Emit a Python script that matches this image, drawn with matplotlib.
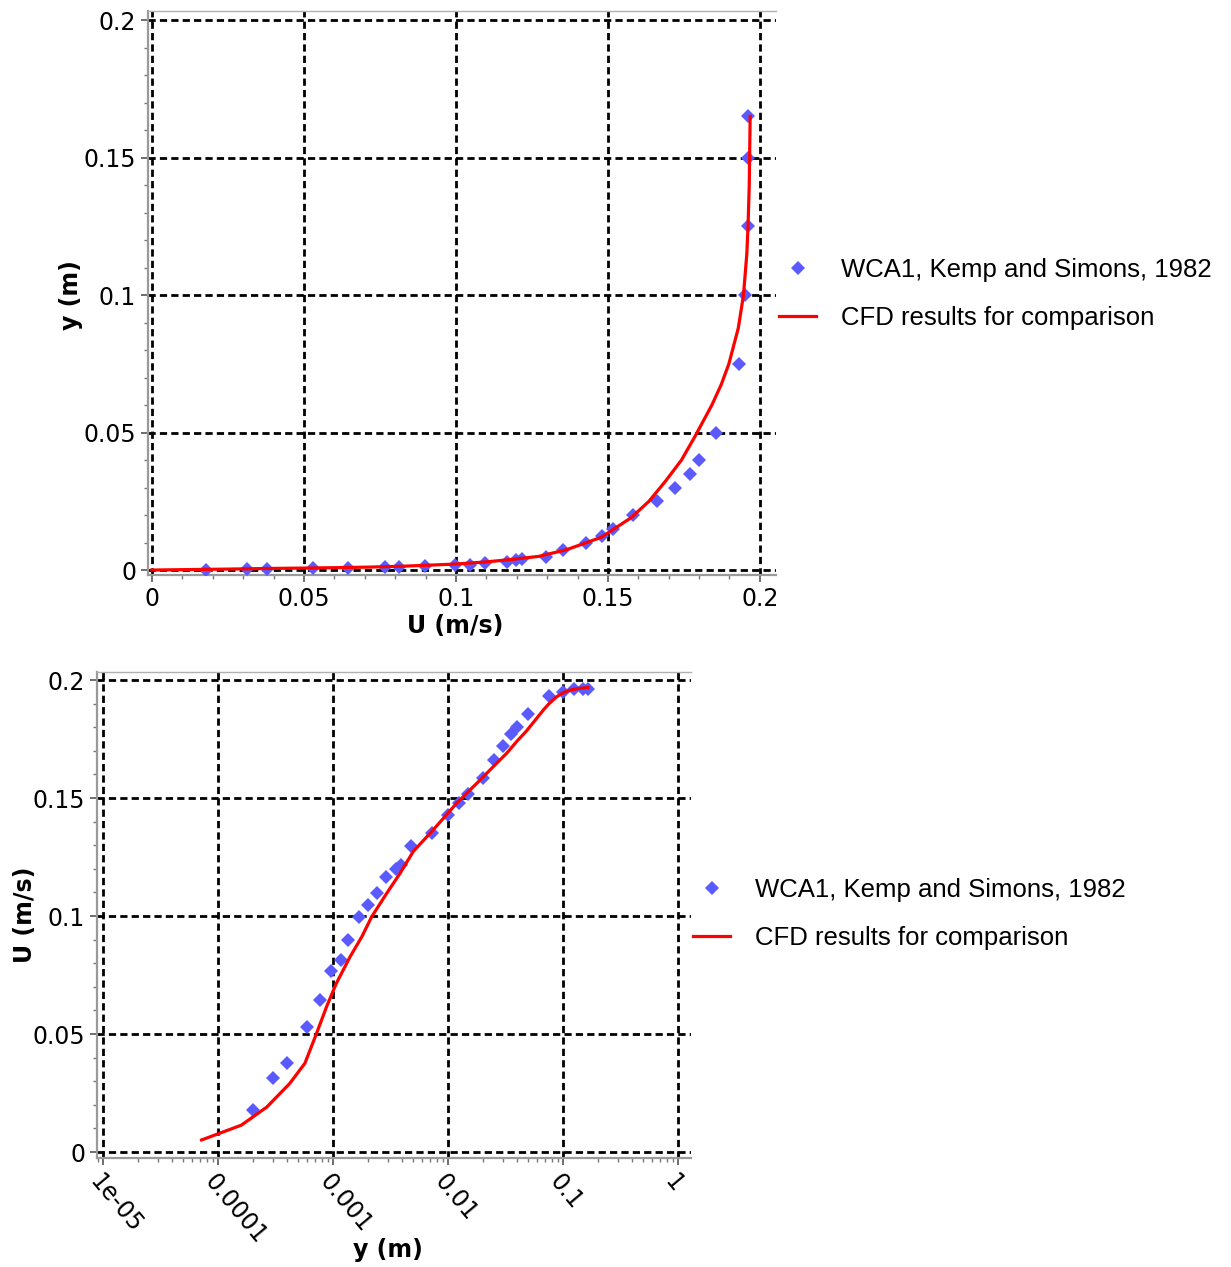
import matplotlib
matplotlib.use("Agg")
import matplotlib.pyplot as plt
import numpy as np
from matplotlib.ticker import FixedLocator, FixedFormatter, MultipleLocator, LogLocator, NullFormatter

# ---- data ----
meas_y = [0.0002, 0.0003, 0.0004, 0.0006, 0.00077, 0.00096, 0.00117, 0.00135, 0.00168, 0.002,
          0.0024, 0.0029, 0.0035, 0.0039, 0.0048, 0.0073, 0.01, 0.0125, 0.015, 0.02,
          0.025, 0.03, 0.035, 0.04, 0.05, 0.075, 0.1, 0.125, 0.15, 0.165]
meas_U = [0.0178, 0.0314, 0.0377, 0.053, 0.0644, 0.0767, 0.0814, 0.0898, 0.0996, 0.1047,
          0.1097, 0.1167, 0.1198, 0.1216, 0.1297, 0.1353, 0.1428, 0.148, 0.1517, 0.1583,
          0.166, 0.172, 0.177, 0.18, 0.1856, 0.1932, 0.195, 0.1962, 0.196, 0.196]

cfd_y = [0.0, 7.2e-5, 1.6e-4, 2.65e-4, 4.2e-4, 5.7e-4, 7.2e-4, 8.8e-4, 1.07e-3, 1.41e-3,
         1.78e-3, 2.17e-3, 2.93e-3, 3.83e-3, 4.98e-3, 7.4e-3, 1.19e-2, 1.9e-2, 0.025,
         3.24e-2, 0.04, 4.83e-2, 0.06, 6.75e-2, 0.075, 8.8e-2, 0.1, 0.115, 0.125, 0.14, 0.165]
cfd_U = [0.0, 0.0051, 0.0114, 0.019, 0.029, 0.0376, 0.0503, 0.0616, 0.0715, 0.0828,
         0.0912, 0.0997, 0.1096, 0.1181, 0.1273, 0.1364, 0.1478, 0.1576, 0.1635,
         0.169, 0.1742, 0.1785, 0.1842, 0.1873, 0.1898, 0.1929, 0.1946, 0.1957, 0.1961, 0.1965, 0.1968]

lin_ticks = [0, 0.05, 0.1, 0.15, 0.2]
lin_labels = ["0", "0.05", "0.1", "0.15", "0.2"]
log_ticks = [1e-5, 1e-4, 1e-3, 1e-2, 1e-1, 1]
log_labels = ["1e-05", "0.0001", "0.001", "0.01", "0.1", "1"]

label_meas = "WCA1, Kemp and Simons, 1982"
label_cfd = "CFD results for comparison"

# ---- style ----
W, H = 1231, 1267
fig = plt.figure(figsize=(W / 100, H / 100), dpi=100)
marker_color = "#5a5aff"
line_color = "#ff0000"
grid_kw = dict(color="black", linewidth=2.0, linestyle=(0, (2.6, 1.5)))
tick_fs = 17
lab_fs = 17
leg_fs = 18.5


def style_axes(ax):
    for s in ["left", "bottom"]:
        ax.spines[s].set_color("#9a9a9a")
        ax.spines[s].set_linewidth(1.6)
    ax.spines["top"].set_color("#b0b0b0")
    ax.spines["top"].set_linewidth(1.0)
    ax.spines["right"].set_visible(False)
    ax.tick_params(which="major", direction="out", length=5, width=1.2, color="#555555",
                   labelsize=tick_fs, labelcolor="black")
    ax.tick_params(which="minor", direction="out", length=3, width=1.0, color="#777777")
    ax.tick_params(top=False, right=False)
    ax.grid(True, which="major", **grid_kw)
    ax.set_axisbelow("line")


def add_legend(ax, x_px, y_px):
    ax.legend(loc="center left", bbox_to_anchor=(x_px / W, 1 - y_px / H),
              bbox_transform=fig.transFigure, frameon=False,
              prop={"family": "Liberation Sans", "size": leg_fs},
              handlelength=1.45, handletextpad=0.95, labelspacing=0.95,
              numpoints=1, borderpad=0, borderaxespad=0)


# ---- top axes: y vs U ----
ax1 = fig.add_axes([148 / W, 1 - 575 / H, 628 / W, 564 / H])
ax1.plot(meas_U, meas_y, linestyle="none", marker="D", markersize=7.5,
         color=marker_color, markeredgewidth=0, label=label_meas, zorder=3)
ax1.plot(cfd_U, cfd_y, color=line_color, linewidth=2.3, label=label_cfd, zorder=4)
ax1.set_xlim(-0.0013, 0.2053)
ax1.set_ylim(-0.0018, 0.2033)
ax1.xaxis.set_major_locator(FixedLocator(lin_ticks))
ax1.xaxis.set_major_formatter(FixedFormatter(lin_labels))
ax1.yaxis.set_major_locator(FixedLocator(lin_ticks))
ax1.yaxis.set_major_formatter(FixedFormatter(lin_labels))
ax1.xaxis.set_minor_locator(MultipleLocator(0.01))
ax1.yaxis.set_minor_locator(MultipleLocator(0.01))
style_axes(ax1)
ax1.set_xlabel("U (m/s)", fontsize=lab_fs, fontweight="bold")
ax1.set_ylabel("y (m)", fontsize=lab_fs, fontweight="bold")
ax1.xaxis.set_label_coords(455 / W, 1 - 614 / H, transform=fig.transFigure)
ax1.yaxis.set_label_coords(83 / W, 1 - 295 / H, transform=fig.transFigure)
add_legend(ax1, 779, 294)

# ---- bottom axes: U vs y (log) ----
ax2 = fig.add_axes([97 / W, 1 - 1158 / H, 594 / W, 486 / H])
ax2.set_xscale("log")
ax2.plot(meas_y, meas_U, linestyle="none", marker="D", markersize=7.5,
         color=marker_color, markeredgewidth=0, label=label_meas, zorder=3)
cy = np.array(cfd_y)
cu = np.array(cfd_U)
m = cy > 0
ax2.plot(cy[m], cu[m], color=line_color, linewidth=2.3, label=label_cfd, zorder=4)
ax2.set_xlim(10 ** -5.052, 10 ** 0.113)
ax2.set_ylim(-0.00254, 0.2034)
ax2.xaxis.set_major_locator(FixedLocator(log_ticks))
ax2.xaxis.set_major_formatter(FixedFormatter(log_labels))
ax2.xaxis.set_minor_locator(LogLocator(base=10, subs=np.arange(2, 10)))
ax2.xaxis.set_minor_formatter(NullFormatter())
ax2.yaxis.set_major_locator(FixedLocator(lin_ticks))
ax2.yaxis.set_major_formatter(FixedFormatter(lin_labels))
ax2.yaxis.set_minor_locator(MultipleLocator(0.01))
style_axes(ax2)
for lbl in ax2.get_xticklabels():
    lbl.set_rotation(-50)
    lbl.set_ha("left")
    lbl.set_va("top")
    lbl.set_rotation_mode("anchor")
ax2.set_xlabel("y (m)", fontsize=lab_fs, fontweight="bold")
ax2.set_ylabel("U (m/s)", fontsize=lab_fs, fontweight="bold")
ax2.xaxis.set_label_coords(388 / W, 1 - 1238 / H, transform=fig.transFigure)
ax2.yaxis.set_label_coords(37 / W, 1 - 915 / H, transform=fig.transFigure)
add_legend(ax2, 693, 914)

fig.savefig("out.png", dpi=100)
